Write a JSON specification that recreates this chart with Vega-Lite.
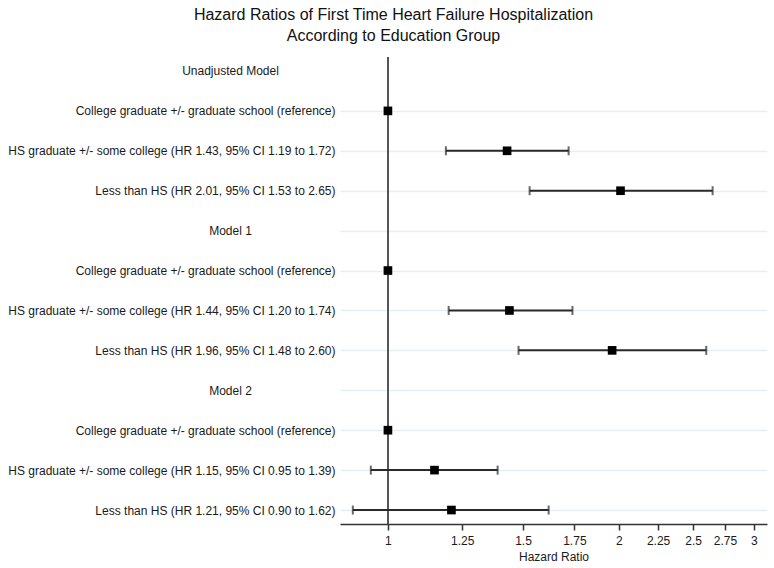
{
  "$schema": "https://vega.github.io/schema/vega-lite/v6.json",
  "autosize": {"type": "none"},
  "width": 427,
  "height": 467,
  "padding": {"left": 340, "top": 57, "right": 7, "bottom": 44},
  "background": "white",
  "title": {
    "text": ["Hazard Ratios of First Time Heart Failure Hospitalization", "According to Education Group"],
    "font": "Liberation Sans",
    "fontSize": 16,
    "fontWeight": "normal",
    "color": "#111",
    "lineHeight": 21,
    "baseline": "alphabetic",
    "offset": -1,
    "anchor": "middle",
    "frame": "group",
    "dx": -160
  },
  "config": {
    "view": {"stroke": null},
    "font": "Liberation Sans"
  },
  "data": {
    "values": [
      {"order": 1, "label": "Unadjusted Model", "hr": null, "lo": null, "hi": null},
      {"order": 2, "label": "College graduate +/- graduate school (reference)", "hr": 1, "lo": null, "hi": null},
      {"order": 3, "label": "HS graduate +/- some college (HR 1.43, 95% CI 1.19 to 1.72)", "hr": 1.43, "lo": 1.19, "hi": 1.72},
      {"order": 4, "label": "Less than HS (HR 2.01, 95% CI 1.53 to 2.65)", "hr": 2.01, "lo": 1.53, "hi": 2.65},
      {"order": 5, "label": "Model 1", "hr": null, "lo": null, "hi": null},
      {"order": 6, "label": "College graduate +/- graduate school (reference)\u200b", "hr": 1, "lo": null, "hi": null},
      {"order": 7, "label": "HS graduate +/- some college (HR 1.44, 95% CI 1.20 to 1.74)", "hr": 1.44, "lo": 1.20, "hi": 1.74},
      {"order": 8, "label": "Less than HS (HR 1.96, 95% CI 1.48 to 2.60)", "hr": 1.96, "lo": 1.48, "hi": 2.60},
      {"order": 9, "label": "Model 2", "hr": null, "lo": null, "hi": null},
      {"order": 10, "label": "College graduate +/- graduate school (reference)\u200b\u200b", "hr": 1, "lo": null, "hi": null},
      {"order": 11, "label": "HS graduate +/- some college (HR 1.15, 95% CI 0.95 to 1.39)", "hr": 1.15, "lo": 0.95, "hi": 1.39},
      {"order": 12, "label": "Less than HS (HR 1.21, 95% CI 0.90 to 1.62)", "hr": 1.21, "lo": 0.90, "hi": 1.62}
    ]
  },
  "encoding": {
    "y": {
      "field": "label",
      "type": "nominal",
      "sort": {"field": "order", "op": "min"},
      "scale": {"type": "point", "padding": 0.35},
      "axis": {
        "title": null,
        "domain": false,
        "ticks": false,
        "grid": true,
        "gridColor": "#e6eef1",
        "gridWidth": 1.5,
        "gridOpacity": {"condition": {"test": "datum.value === 'Unadjusted Model'", "value": 0}, "value": 1},
        "labelFont": "Liberation Sans",
        "labelFontSize": 12,
        "labelColor": "#1a1a1a",
        "labelLimit": 400,
        "labelAlign": {"condition": {"test": "test(/Model/, datum.value)", "value": "center"}, "value": "right"},
        "labelPadding": {"condition": {"test": "test(/Model/, datum.value)", "value": 110}, "value": 5}
      }
    }
  },
  "layer": [
    {
      "mark": {"type": "point", "opacity": 0},
      "encoding": {}
    },
    {
      "mark": {"type": "rule", "color": "#555555", "strokeWidth": 1.6},
      "encoding": {
        "x": {"datum": 1, "type": "quantitative", "scale": {"type": "log", "domain": [0.866, 3.12], "nice": false, "zero": false}},
        "y": null
      }
    },
    {
      "mark": {"type": "rule", "color": "#2a2a2a", "strokeWidth": 2},
      "encoding": {
        "x": {"field": "lo", "type": "quantitative"},
        "x2": {"field": "hi"}
      }
    },
    {
      "mark": {"type": "tick", "orient": "vertical", "color": "#2a2a2a", "size": 9, "thickness": 2},
      "encoding": {
        "x": {"field": "lo", "type": "quantitative"}
      }
    },
    {
      "mark": {"type": "tick", "orient": "vertical", "color": "#2a2a2a", "size": 9, "thickness": 2},
      "encoding": {
        "x": {"field": "hi", "type": "quantitative"}
      }
    },
    {
      "mark": {"type": "point", "shape": "square", "filled": true, "color": "#000000", "opacity": 1, "size": 75},
      "encoding": {
        "x": {
          "field": "hr",
          "type": "quantitative",
          "scale": {"type": "log", "domain": [0.866, 3.12], "nice": false, "zero": false},
          "axis": {
            "title": "Hazard Ratio",
            "titleFont": "Liberation Sans",
            "titleFontSize": 12,
            "titleFontWeight": "normal",
            "titleColor": "#1a1a1a",
            "titlePadding": 5,
            "values": [1, 1.25, 1.5, 1.75, 2, 2.25, 2.5, 2.75, 3],
            "format": "~g",
            "labelFont": "Liberation Sans",
            "labelFontSize": 12,
            "labelColor": "#1a1a1a",
            "labelPadding": 5,
            "labelFlush": false,
            "labelOverlap": false,
            "grid": false,
            "domainColor": "#333333",
            "domainWidth": 1.5,
            "tickColor": "#333333",
            "tickWidth": 1.5,
            "tickSize": 6
          }
        }
      }
    }
  ]
}
